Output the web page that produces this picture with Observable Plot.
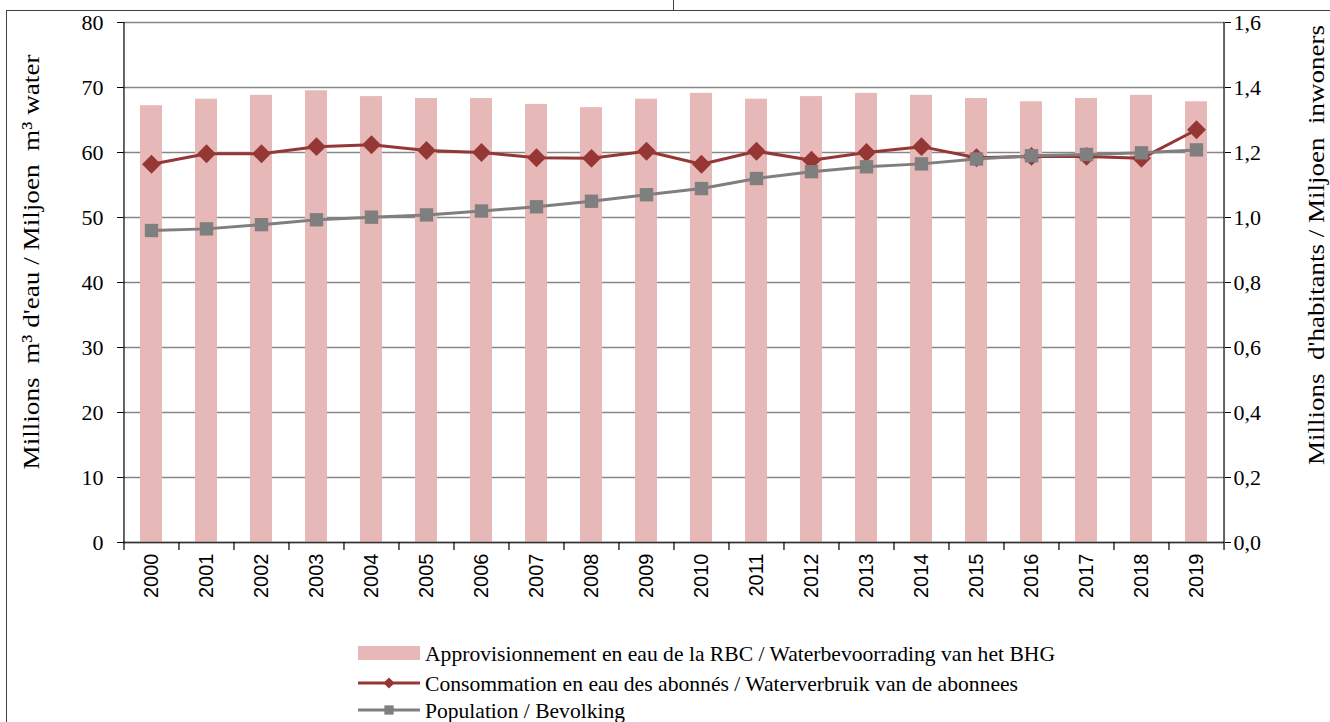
<!DOCTYPE html>
<html>
<head>
<meta charset="utf-8">
<script src="https://cdn.jsdelivr.net/npm/d3@7"></script>
<script src="https://cdn.jsdelivr.net/npm/@observablehq/plot@0.6"></script>
<style>
  html, body { margin: 0; padding: 0; background: #fff; }
  #wrap { position: relative; width: 1330px; height: 722px; overflow: hidden; background: #fff; }
  #frameTop { position: absolute; left: 7px; top: 10px; width: 1330px; height: 0; border-top: 1.5px solid #404040; }
  #frameLeft { position: absolute; left: 6px; top: 10px; width: 0; height: 720px; border-left: 1.5px solid #404040; }
  #frameTick { position: absolute; left: 673px; top: 0; width: 0; height: 11px; border-left: 1.5px solid #404040; }
  #chart, #legend { position: relative; }
</style>
</head>
<body>
<div id="wrap">
  <div id="frameTop"></div>
  <div id="frameLeft"></div>
  <div id="frameTick"></div>
  <div id="chart"></div>
  <div id="legend"></div>
</div>
<script>
// ---- data ----
const years = [2000, 2001, 2002, 2003, 2004, 2005, 2006, 2007, 2008, 2009,
               2010, 2011, 2012, 2013, 2014, 2015, 2016, 2017, 2018, 2019];
// Approvisionnement en eau de la RBC (millions m³)
const supply = [67.2, 68.2, 68.8, 69.5, 68.6, 68.3, 68.3, 67.4, 66.9, 68.2,
                69.1, 68.2, 68.6, 69.1, 68.8, 68.3, 67.8, 68.3, 68.8, 67.8];
// Consommation en eau des abonnés (millions m³)
const consumption = [58.2, 59.8, 59.8, 60.9, 61.2, 60.3, 60.0, 59.2, 59.1, 60.2,
                     58.2, 60.2, 58.8, 60.0, 60.9, 59.2, 59.4, 59.4, 59.1, 63.5];
// Population (millions d'habitants)
const population = [0.960, 0.965, 0.978, 0.993, 1.001, 1.008, 1.020, 1.033, 1.050, 1.070,
                    1.089, 1.120, 1.141, 1.156, 1.165, 1.180, 1.190, 1.194, 1.199, 1.208];
const leftTicks = [0, 10, 20, 30, 40, 50, 60, 70, 80];
const rightTickLabels = ["0,0", "0,2", "0,4", "0,6", "0,8", "1,0", "1,2", "1,4", "1,6"];
const leftTitle = "Millions  m³ d'eau / Miljoen  m³ water";
const rightTitle = "Millions  d'habitants / Miljoen  inwoners";
const seriesNames = [
  "Approvisionnement en eau de la RBC / Waterbevoorrading van het BHG",
  "Consommation en eau des abonnés / Waterverbruik van  de abonnees",
  "Population / Bevolking"
];
const colors = { supply: "#e6b8b7", consumption: "#953735", population: "#7f7f7f" };

const SERIF = "'Liberation Serif', 'Times New Roman', serif";
const SANS = "'Liberation Sans', Arial, sans-serif";

// right axis (0–1.6) mapped onto left axis (0–80)
const ratio = 80 / 1.6;
const rows = years.map((y, i) => ({
  year: y, supply: supply[i], consumption: consumption[i], population: population[i] * ratio
}));

const W = 1330, H = 625;
const mL = 123, mR = 106, mT = 22, mB = H - 542;
const step = (W - mL - mR) / years.length;

const chart = Plot.plot({
  width: W, height: H,
  marginLeft: mL, marginRight: mR, marginTop: mT, marginBottom: mB,
  style: { fontFamily: SERIF, fontSize: "22px", color: "#000", background: "transparent", overflow: "visible" },
  x: { type: "band", domain: years, paddingInner: 0.6, paddingOuter: 0.3 },
  y: { domain: [0, 80] },
  marks: [
    Plot.gridY(leftTicks, { stroke: "#868686", strokeOpacity: 1, strokeWidth: 1.5 }),
    Plot.barY(rows, { x: "year", y: "supply", fill: colors.supply }),
    Plot.line(rows, { x: "year", y: "consumption", stroke: colors.consumption, strokeWidth: 3 }),
    Plot.dot(rows, { x: "year", y: "consumption", symbol: "diamond2", r: 8.5, fill: colors.consumption, stroke: null }),
    Plot.line(rows, { x: "year", y: "population", stroke: colors.population, strokeWidth: 3 }),
    Plot.dot(rows, { x: "year", y: "population", symbol: "square2", r: 8.5, fill: colors.population, stroke: null }),
    Plot.ruleY([0], { stroke: "#333", strokeWidth: 1.5 }),
    Plot.ruleX([years[0]], { y1: 0, y2: 80, dx: -step / 2, stroke: "#000", strokeWidth: 1.2 }),
    Plot.ruleX([years[years.length - 1]], { y1: 0, y2: 80, dx: step / 2, stroke: "#000", strokeWidth: 1.2 }),
    Plot.axisY({ ticks: leftTicks, tickSize: 6, tickPadding: 14, label: null, fontSize: 22, fontFamily: SERIF,
                 tickFormat: d => String(d) }),
    Plot.axisY({ anchor: "right", ticks: leftTicks, tickSize: 6, tickPadding: 3, label: null, fontSize: 22, fontFamily: SERIF,
                 tickFormat: d => rightTickLabels[leftTicks.indexOf(d)] }),
    Plot.axisX({ tickSize: 0, tickRotate: -90, tickPadding: 11, label: null, fontSize: 20, fontFamily: SANS,
                 tickFormat: d => String(d) }),
    Plot.axisX({ text: null, tickSize: 8, dx: -step / 2, label: null, strokeWidth: 1.2 }),
    Plot.axisX({ ticks: [years[years.length - 1]], text: null, tickSize: 8, dx: step / 2, label: null, strokeWidth: 1.2 })
  ]
});
document.getElementById("chart").appendChild(chart);

// axis titles
const svg = d3.select(chart);
svg.append("text")
  .attr("transform", "translate(39,262) rotate(-90)")
  .attr("text-anchor", "middle")
  .attr("font-family", SERIF)
  .attr("font-size", 24)
  .attr("textLength", 415).attr("lengthAdjust", "spacingAndGlyphs")
  .attr("fill", "#000")
  .text(leftTitle);
svg.append("text")
  .attr("transform", "translate(1324,245) rotate(-90)")
  .attr("text-anchor", "middle")
  .attr("font-family", SERIF)
  .attr("font-size", 24)
  .attr("textLength", 440).attr("lengthAdjust", "spacingAndGlyphs")
  .attr("fill", "#000")
  .text(rightTitle);

// legend (below the chart)
const lg = d3.select("#legend").append("svg").attr("width", W).attr("height", 722 - H);
const lx0 = 358, lx1 = 420, tx = 425;
const rowY = [28, 58, 85];
const textLens = [630, 593, 200];
lg.append("rect").attr("x", lx0).attr("y", rowY[0] - 7).attr("width", lx1 - lx0).attr("height", 14).attr("fill", colors.supply);
lg.append("line").attr("x1", lx0).attr("x2", lx1).attr("y1", rowY[1]).attr("y2", rowY[1])
  .attr("stroke", colors.consumption).attr("stroke-width", 3);
lg.append("path").attr("transform", `translate(${(lx0 + lx1) / 2},${rowY[1]})`)
  .attr("d", d3.symbol(d3.symbolDiamond2, 80)()).attr("fill", colors.consumption);
lg.append("line").attr("x1", lx0).attr("x2", lx1).attr("y1", rowY[2]).attr("y2", rowY[2])
  .attr("stroke", colors.population).attr("stroke-width", 3);
lg.append("path").attr("transform", `translate(${(lx0 + lx1) / 2},${rowY[2]})`)
  .attr("d", d3.symbol(d3.symbolSquare2, 110)()).attr("fill", colors.population);
seriesNames.forEach((name, i) => {
  lg.append("text").attr("x", tx).attr("y", rowY[i]).attr("dy", "0.35em")
    .attr("font-family", SERIF)
    .attr("font-size", 22)
    .attr("textLength", textLens[i]).attr("lengthAdjust", "spacingAndGlyphs")
    .attr("fill", "#000").text(name);
});
</script>
</body>
</html>
